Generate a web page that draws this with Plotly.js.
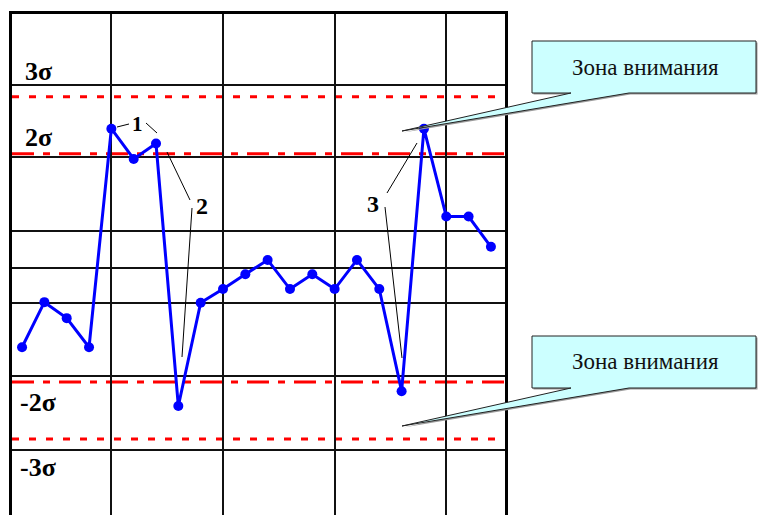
<!DOCTYPE html>
<html>
<head>
<meta charset="utf-8">
<script src="https://cdn.plot.ly/plotly-3.0.1.min.js"></script>
<style>
body { margin: 0; background: #fff; }
#chart { width: 758px; height: 515px; }
</style>
</head>
<body>
<div id="chart"></div>
<script>
// sample number and value in sigma units (centre line = 0)
var samples = [1, 2, 3, 4, 5, 6, 7, 8, 9, 10, 11, 12, 13, 14, 15, 16, 17, 18, 19, 20, 21, 22];
var values = [-1.39, -0.60, -0.88, -1.39, 2.44, 1.91, 2.18, -2.42, -0.61, -0.37, -0.11, 0.14,
              -0.37, -0.11, -0.37, 0.14, -0.37, -2.16, 2.44, 0.90, 0.90, 0.37];

var warnLimits = [2, -2];     // dash-dot
var actionLimits = [3, -3];   // dotted
var sigmaLabels = ['3σ', '2σ', '-2σ', '-3σ'];
var sigmaLabelY = [3.45, 2.28, -2.36, -3.5];
var gridX = [5, 10, 15, 20];
var gridY = [-3.19, -1.9, -0.61, 0.64, 1.94, 3.2];
var calloutText = 'Зона внимания';

var serif = 'Times New Roman, Liberation Serif, serif';

// page pixel -> paper coords (plot area: x 12..505, y 14..515)
function px(x) { return (x - 12) / 493; }
function py(y) { return (515 - y) / 501; }
function pathOf(pts) {
  return pts.map(function (p, i) { return (i ? 'L' : 'M') + px(p[0]) + ',' + py(p[1]); }).join(' ') + ' Z';
}

var trace = {
  x: samples,
  y: values,
  type: 'scatter',
  mode: 'lines+markers',
  line: { color: '#0000ff', width: 3 },
  marker: { color: '#0000ff', size: 10 },
  hoverinfo: 'x+y'
};

var shapes = [];
warnLimits.forEach(function (v) {
  shapes.push({ type: 'line', xref: 'paper', yref: 'y', x0: 0, x1: 1, y0: v, y1: v, layer: 'between',
    line: { color: '#ff0000', width: 3, dash: '22px,9px,7px,9px' } });
});
actionLimits.forEach(function (v) {
  shapes.push({ type: 'line', xref: 'paper', yref: 'y', x0: 0, x1: 1, y0: v, y1: v, layer: 'between',
    line: { color: '#ff0000', width: 3, dash: '7px,10px' } });
});

// leader lines for the numbered remarks
var leaders = [
  [117, 127, 129, 124], [146, 123, 157, 133],
  [167, 152, 190, 200], [192, 208, 182, 357],
  [387, 193, 417, 143], [385, 207, 402, 358]
];
leaders.forEach(function (l) {
  shapes.push({ type: 'line', xref: 'paper', yref: 'paper',
    x0: px(l[0]), y0: py(l[1]), x1: px(l[2]), y1: py(l[3]),
    line: { color: '#000', width: 1 } });
});

// callouts: box + wedge to the zone
function callout(top, tipY) {
  var b = top + 52;
  var pts = [[532, top], [756, top], [756, b], [629, b], [402, tipY], [571, b], [532, b]];
  var shadow = pts.map(function (p) { return [p[0] + 1.5, p[1] + 1.5]; });
  shapes.push({ type: 'path', xref: 'paper', yref: 'paper', path: pathOf(shadow),
    fillcolor: '#9a9a9a', line: { width: 0 } });
  shapes.push({ type: 'path', xref: 'paper', yref: 'paper', path: pathOf(pts),
    fillcolor: '#ccffff', line: { color: '#222', width: 1 } });
}
callout(41, 131);
callout(336, 426);

var annotations = [];
sigmaLabels.forEach(function (t, i) {
  annotations.push({ text: '<b>' + t + '</b>', xref: 'paper', yref: 'y', x: px(38), y: sigmaLabelY[i],
    xanchor: 'center', yanchor: 'middle', showarrow: false,
    font: { family: serif, size: 26, color: '#000' } });
});
[['1', 137, 124, 21], ['2', 202, 206, 24], ['3', 373, 204, 24]].forEach(function (n) {
  annotations.push({ text: '<b>' + n[0] + '</b>', xref: 'paper', yref: 'paper', x: px(n[1]), y: py(n[2]),
    xanchor: 'center', yanchor: 'middle', showarrow: false,
    font: { family: serif, size: n[3], color: '#000' } });
});
[67, 362].forEach(function (y) {
  annotations.push({ text: calloutText, xref: 'paper', yref: 'paper', x: px(645), y: py(y),
    xanchor: 'center', yanchor: 'middle', showarrow: false,
    font: { family: serif, size: 23, color: '#111' } });
});

var layout = {
  width: 758,
  height: 515,
  margin: { l: 12, r: 253, t: 14, b: 0 },
  showlegend: false,
  font: { family: serif },
  xaxis: {
    range: [0.55, 22.63],
    side: 'top',
    tickvals: gridX,
    showticklabels: false,
    ticks: '',
    showgrid: true,
    gridcolor: '#111',
    gridwidth: 2,
    zeroline: false,
    showline: true,
    linecolor: '#000',
    linewidth: 3
  },
  yaxis: {
    range: [-4.33, 4.45],
    tickvals: gridY,
    showticklabels: false,
    ticks: '',
    showgrid: true,
    gridcolor: '#111',
    gridwidth: 2,
    zeroline: true,
    zerolinecolor: '#111',
    zerolinewidth: 2,
    showline: true,
    mirror: true,
    linecolor: '#000',
    linewidth: 3
  },
  shapes: shapes,
  annotations: annotations
};

Plotly.newPlot('chart', [trace], layout, { staticPlot: true });
</script>
</body>
</html>
